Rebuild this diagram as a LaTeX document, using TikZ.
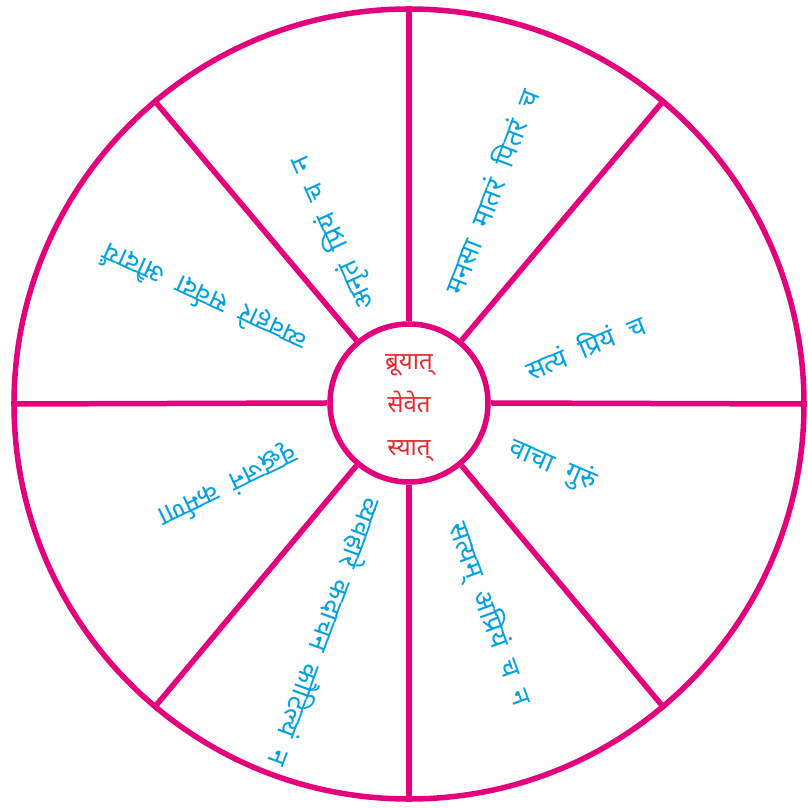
\documentclass[tikz,border=0pt]{standalone}
\usepackage{fontspec}
\newfontfamily\deva[Script=Devanagari]{Noto Sans}
\usetikzlibrary{positioning, calc}
\definecolor{wheelpink}{RGB}{228,0,124}
\definecolor{wordblue}{RGB}{0,160,227}
\definecolor{hubred}{RGB}{232,40,45}
\tikzset{
  rimline/.style={draw=wheelpink, line width=5.5pt},
  wheel/.style={circle, rimline, minimum size=790pt, inner sep=0pt},
  hubc/.style={circle, rimline, fill=white, minimum size=158pt, inner sep=0pt},
  hubword/.style={align=center, text=hubred, font=\deva\fontsize{24}{43}\selectfont},
  spoke/.style={rimline},
  phrase/.style={text=wordblue, inner sep=0pt, font=\deva\fontsize{27}{30}\selectfont,
                 execute at begin node={\spaceskip=0.55em\relax}},
}

\begin{document}
\begin{tikzpicture}[x=1pt, y=1pt]
  \useasboundingbox (0,0) rectangle (807,808);
  \node[wheel] (rim) at (409,404) {};
  \node[hubc, label={[hubword, yshift=-5pt]center:{ब्रूयात्\\सेवेत\\स्यात्}}] (hub) at (409,405) {};

  % spokes
  \foreach \a in {0,50,90,130,180,230,270,310}
    \draw[spoke] (hub.\a) -- (rim.\a);

  % phrases, read outwards along each sector
  \foreach \p/\r/\o/\t [count=\i] in {
      18/185/22.6/सत्यं प्रियं च,
      69/227/69/मनसा मातरं पितरं च,
      114/186/114.5/अनृतं प्रियं च न,
      152.5/230/155.7/व्यवहारे सर्वदा औदार्यं,
      204.4/199/205.8/वृद्धजनं कर्मणा,
      249.9/244/250/व्यवहारे कदाचन कौटिल्यं न,
      290.8/226/290/सत्यम् अप्रियं च न,
      336.4/157/337/वाचा गुरुं}
    \node[phrase, rotate=\o] (ph\i) at ($(hub.center)+(\p:\r)$) {\t};
\end{tikzpicture}
\end{document}
